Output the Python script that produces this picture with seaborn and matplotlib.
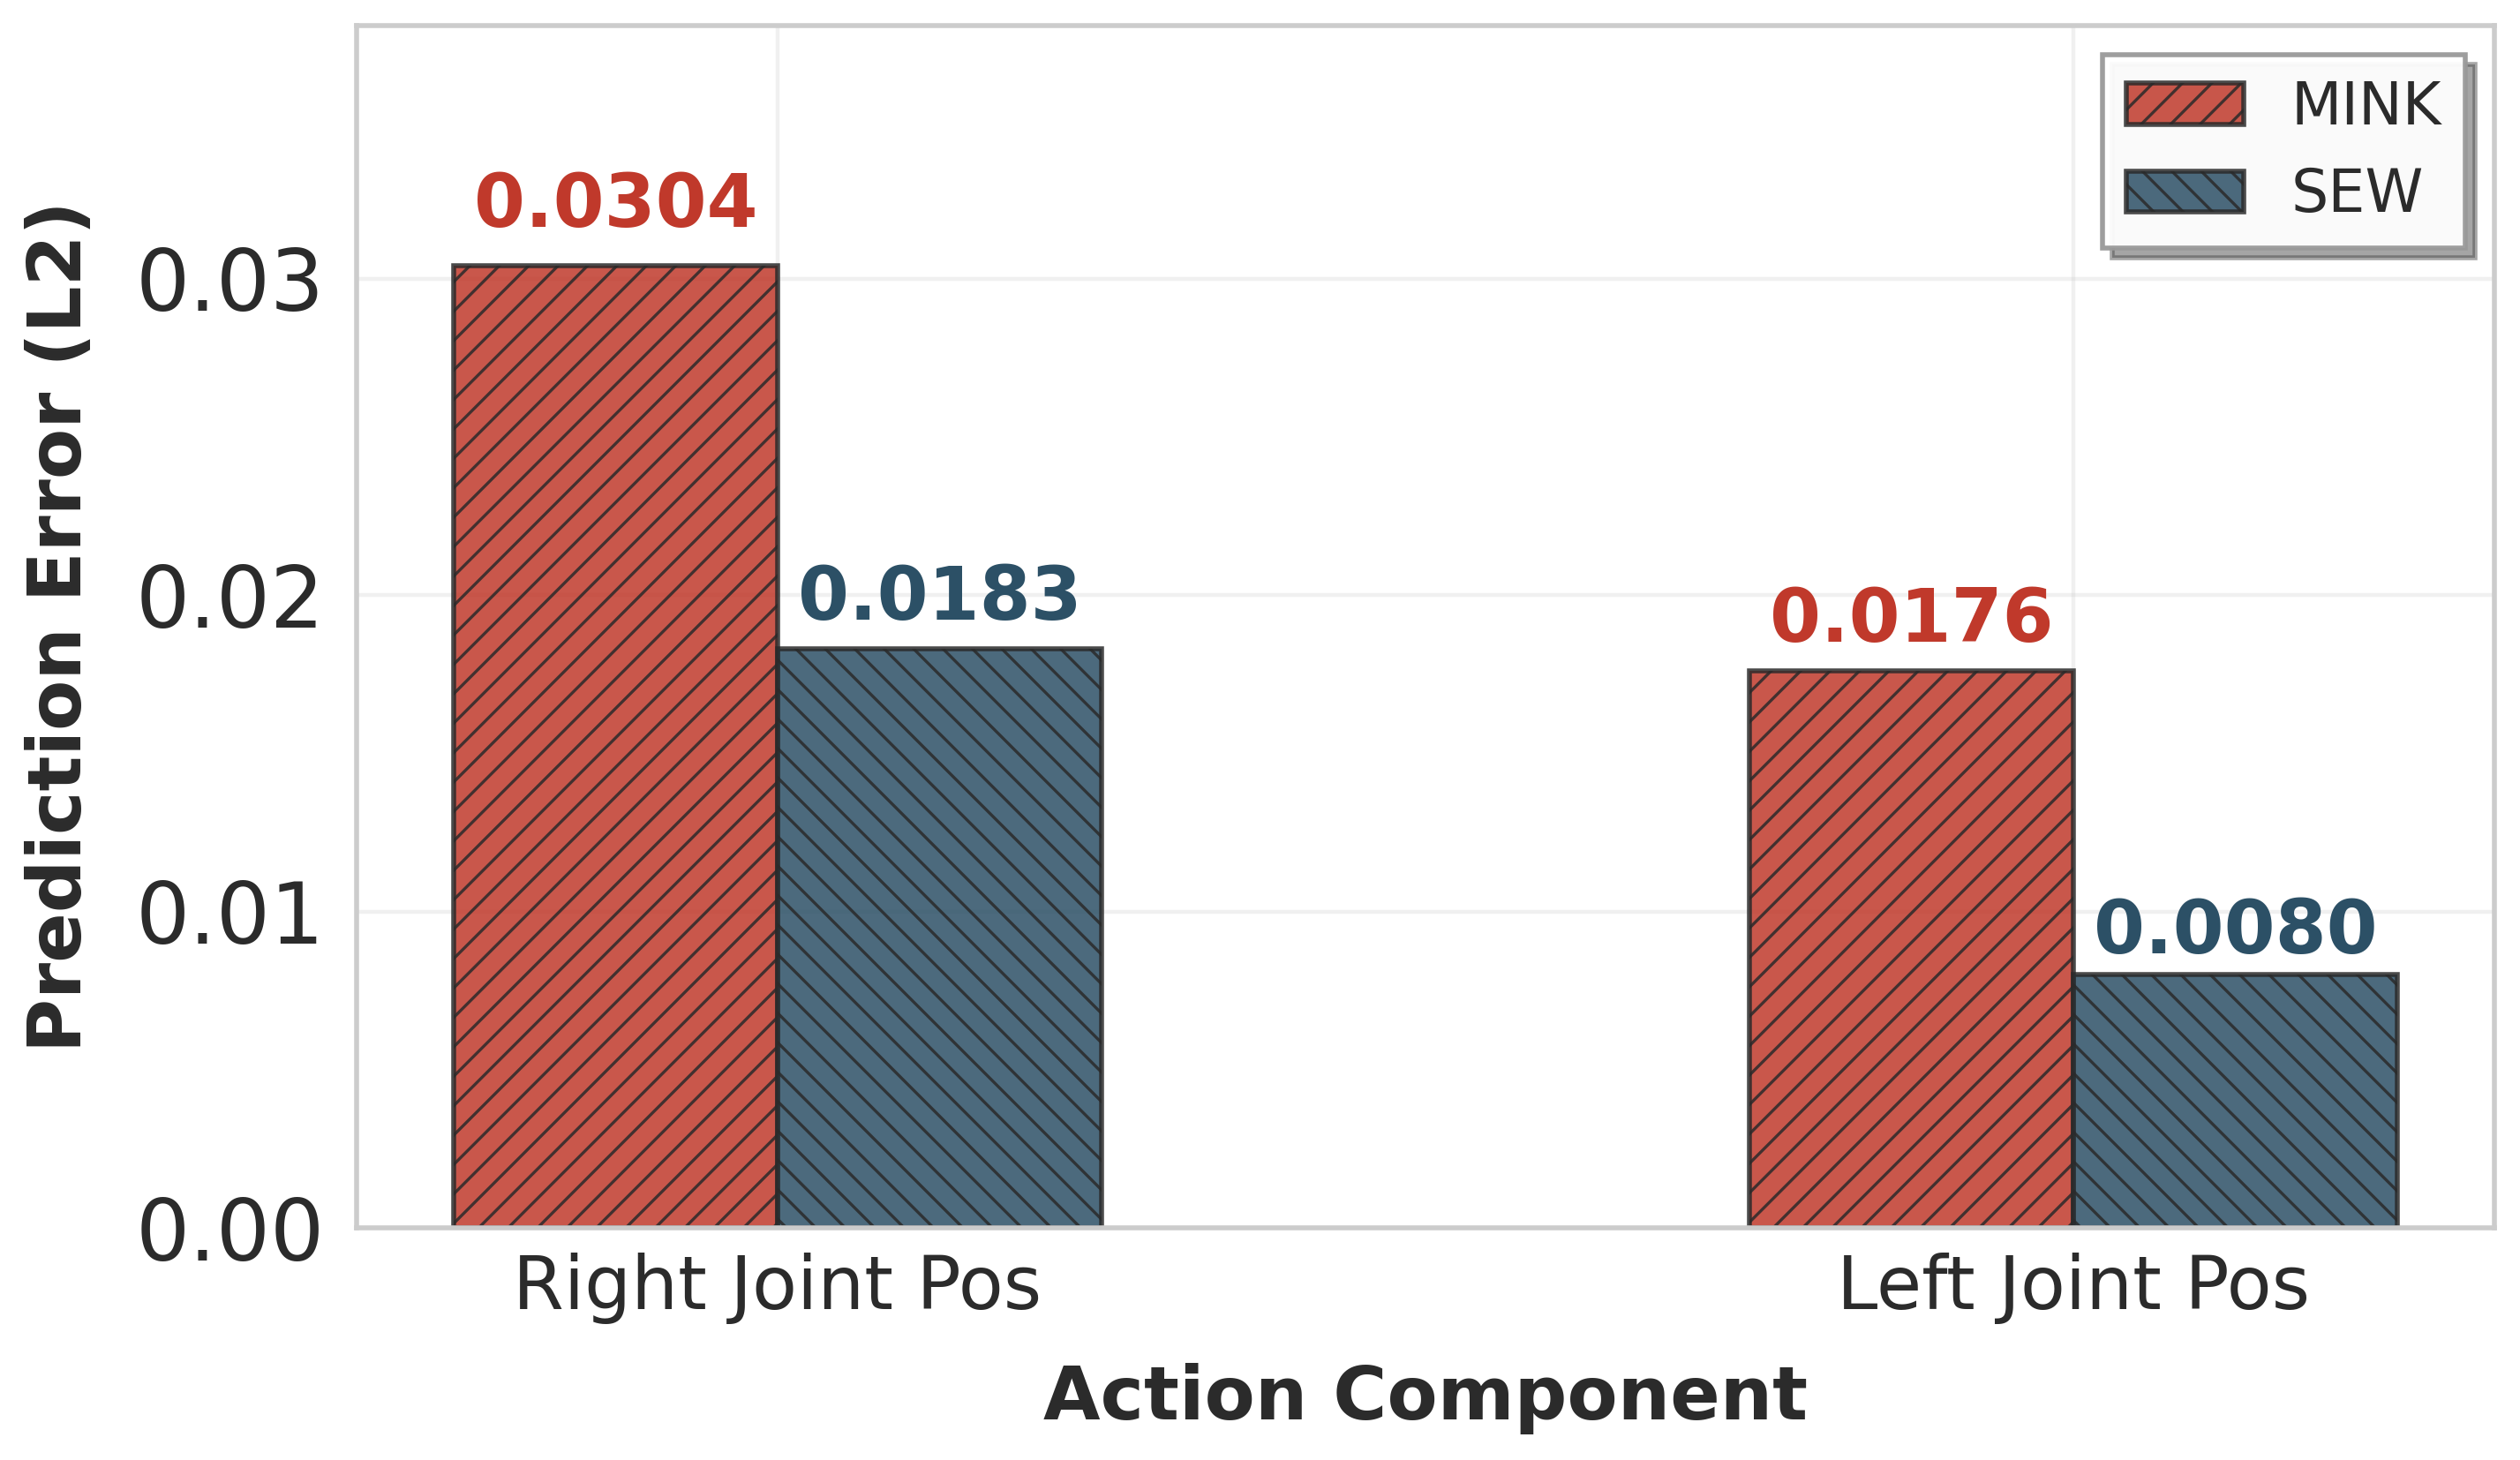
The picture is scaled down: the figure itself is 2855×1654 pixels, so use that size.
import matplotlib
matplotlib.use("Agg")
import matplotlib.pyplot as plt
import numpy as np
import pandas as pd
import seaborn as sns
from matplotlib.ticker import FormatStrFormatter

# ---- data ----
categories = ["Right Joint Pos", "Left Joint Pos"]
methods = ["MINK", "SEW"]
mink_values = [0.0304, 0.0176]
sew_values = [0.0183, 0.0080]
y_ticks = [0.00, 0.01, 0.02, 0.03]

# ---- style ----
colors = ["#C0392B", "#2C5066"]
hatches = ["////", "\\\\\\\\"]

sns.set_theme(style="whitegrid")
plt.rcParams["font.family"] = ["DejaVu Sans"]
plt.rcParams["hatch.linewidth"] = 0.6
for key in ["text.color", "axes.labelcolor", "xtick.color", "ytick.color"]:
    plt.rcParams[key] = "#2b2b2b"

df = pd.DataFrame({
    "Component": categories * 2,
    "Method": [methods[0]] * len(categories) + [methods[1]] * len(categories),
    "Error": mink_values + sew_values,
})

fig, ax = plt.subplots(figsize=(2855 / 400, 1654 / 400), dpi=400)
fig.subplots_adjust(left=0.1415, right=0.9898, bottom=0.159, top=0.9825)

sns.barplot(
    data=df, x="Component", y="Error", hue="Method",
    order=categories, hue_order=methods, palette=colors,
    width=0.5, saturation=1, alpha=0.85,
    edgecolor="#2a2a2a", linewidth=1.0,
    errorbar=None, legend=False, ax=ax,
)

for cont, h, col in zip(ax.containers, hatches, colors):
    for bar in cont:
        bar.set_hatch(h)
        val = bar.get_height()
        ax.text(bar.get_x() + bar.get_width() / 2, val * 1.025, f"{val:.4f}",
                ha="center", va="bottom", fontsize=15, fontweight="bold",
                color=col)

ax.set_xlim(-0.325, 1.325)
ax.set_ylim(0, 0.038)
ax.set_yticks(y_ticks)
ax.yaxis.set_major_formatter(FormatStrFormatter("%.2f"))

for s in ax.spines.values():
    s.set_color("#cccccc")
    s.set_linewidth(1.0)
ax.grid(True, alpha=0.28, linewidth=0.8)
ax.set_axisbelow(True)

ax.tick_params(axis="y", labelsize=17.3, pad=6.5, length=0)
ax.tick_params(axis="x", labelsize=15, pad=5, length=0)
ax.set_xlabel("Action Component", fontsize=15, fontweight="bold", labelpad=8)
ax.set_ylabel("Prediction Error (L2)", fontsize=15, fontweight="bold", labelpad=8)

leg = ax.legend(handles=ax.containers, labels=methods, loc="upper right",
                fontsize=12, frameon=True, fancybox=False, shadow=True,
                framealpha=0.95, edgecolor="#999999")
leg.get_frame().set_linewidth(1.0)

fig.savefig("out.png", dpi=400)
